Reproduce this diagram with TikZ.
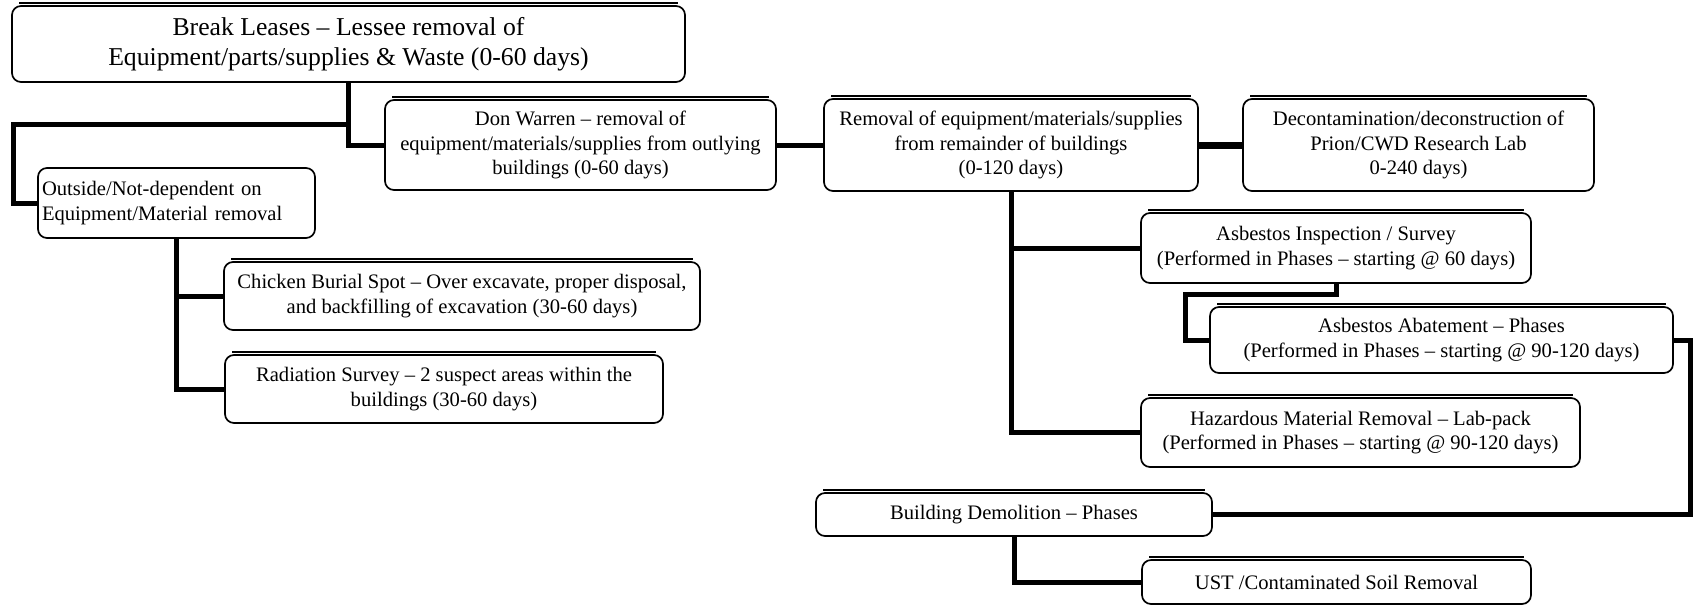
\documentclass[tikz,border=0pt]{standalone}
\usepackage{fontspec}
\setmainfont{Liberation Serif}

\begin{document}
\begin{tikzpicture}[x=1pt,y=-1pt,
	box/.style={draw, line width=1.7pt, rounded corners=9pt, align=center, inner sep=2pt, font=\fontsize{20.6}{24.5}\selectfont},
	link/.style={line width=5pt},
	ridge/.style={line width=2.5pt}]
	\useasboundingbox (0,0) rectangle (1693,606);

	\node[box, minimum width=673pt, minimum height=76pt, font=\fontsize{25.7}{30}\selectfont] (lease) at (348.5,44) {Break Leases -- Lessee removal of\\Equipment/parts/supplies \& Waste (0-60 days)};
	\node[box, minimum width=391pt, minimum height=90pt] (warren) at (580.5,145) {Don Warren -- removal of\\equipment/materials/supplies from outlying\\buildings (0-60 days)};
	\node[box, minimum width=374pt, minimum height=92pt] (removal) at (1011,145) {Removal of equipment/materials/supplies\\from remainder of buildings\\(0-120 days)};
	\node[box, minimum width=351pt, minimum height=92pt] (decon) at (1418.5,145) {Decontamination/deconstruction of\\Prion/CWD Research Lab\\0-240 days)};
	\node[box, minimum width=277pt, minimum height=70pt, text width=269pt, align=left] (outside) at (176.5,203) {Outside/Not-dependent on\\Equipment/Material removal};
	\node[box, minimum width=476pt, minimum height=68pt] (chicken) at (462,296) {Chicken Burial Spot -- Over excavate, proper disposal,\\and backfilling of excavation (30-60 days)};
	\node[box, minimum width=438pt, minimum height=68pt] (radiation) at (444,389) {Radiation Survey -- 2 suspect areas within the\\buildings (30-60 days)};
	\node[box, minimum width=390pt, minimum height=70pt] (inspect) at (1336,248) {Asbestos Inspection / Survey\\(Performed in Phases -- starting @ 60 days)};
	\node[box, minimum width=463pt, minimum height=66pt] (abate) at (1441.5,340) {Asbestos Abatement -- Phases\\(Performed in Phases -- starting @ 90-120 days)};
	\node[box, minimum width=439pt, minimum height=69pt] (hazmat) at (1360.5,432.5) {Hazardous Material Removal -- Lab-pack\\(Performed in Phases -- starting @ 90-120 days)};
	\node[box, minimum width=396pt, minimum height=43pt] (demo) at (1014,514.5) {Building Demolition -- Phases};
	\node[box, minimum width=389pt, minimum height=44pt] (ust) at (1336.5,582) {UST /Contaminated Soil Removal};

	\foreach \n in {lease,warren,removal,decon,chicken,radiation,inspect,abate,hazmat,demo,ust}
		\draw[ridge] ([xshift=8pt,yshift=2pt]\n.north west) -- ([xshift=-8pt,yshift=2pt]\n.north east);

	\coordinate (bend) at (13,124);
	\coordinate (jog) at (1185,294);
	\coordinate (rim) at (1690,0);

	\draw[link] (lease.south) |- (warren.west);
	\draw[link] (lease.south |- bend) -- (bend) |- (outside.west);
	\draw[link] (warren.east) -- (removal.west);
	\draw[link, line width=7pt] (removal.east) -- (decon.west);
	\draw[link] (outside.south) |- (chicken.west);
	\draw[link] (outside.south) |- (radiation.west);
	\draw[link] (removal.south) |- (inspect.west);
	\draw[link] (removal.south) |- (hazmat.west);
	\draw[link] (inspect.south) |- (jog) |- (abate.west);
	\draw[link] (abate.east) -- (abate.east -| rim) |- (demo.east);
	\draw[link] (demo.south) |- (ust.west);
\end{tikzpicture}
\end{document}
